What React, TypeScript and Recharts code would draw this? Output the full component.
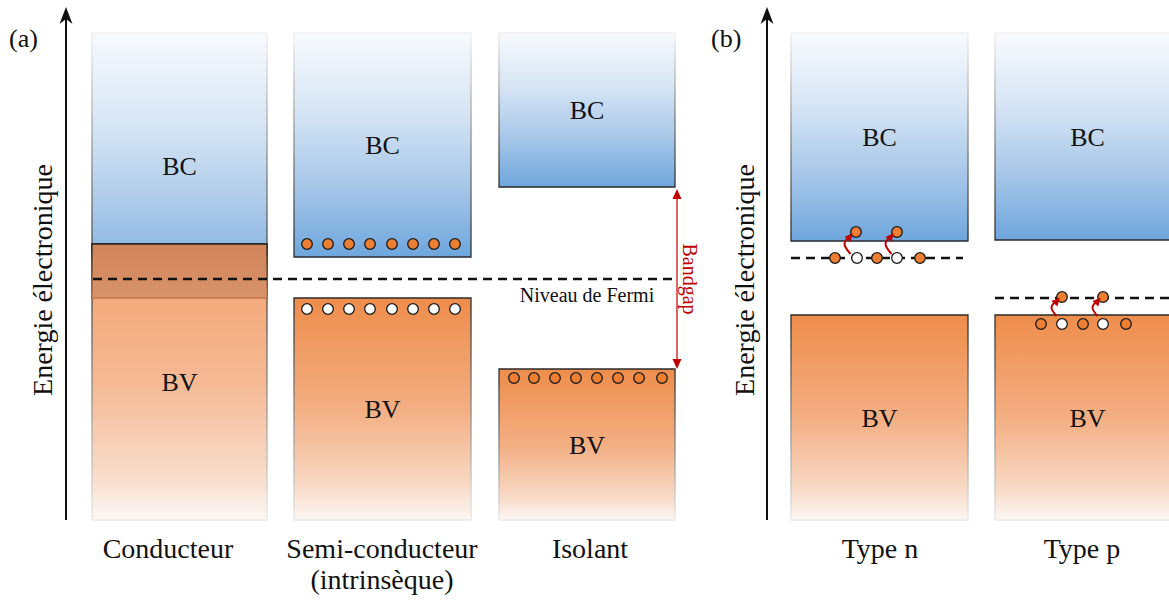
import {
  ComposedChart,
  XAxis,
  YAxis,
  ReferenceArea,
  ReferenceLine,
  Scatter,
  Line,
} from "recharts";

const FONT = "Liberation Serif, Times New Roman, Times, serif";
const RED = "#c00000";

// columns (x in chart units, energies in arbitrary units, 0 = bottom of the axis)
const columnNames = [["Conducteur"], ["Semi-conducteur", "(intrinsèque)"], ["Isolant"], ["Type n"], ["Type p"]];
const columnTicks = [168, 382, 590, 880, 1082];
const columnLeft = [92, 294, 499, 791, 995];
const columnRight = [267, 471, 675, 968, 1180];
const bandTop = 487;
const bcBottom = [222, 263, 333, 279, 280];
const bvTop = [276, 222, 151, 205, 205];

const fermiLevel = { x1: 93, x2: 676, e: 241 };
const donorLevel = { x1: 791, x2: 963, e: 262 };
const acceptorLevel = { x1: 995, x2: 1169, e: 222 };

const electrons = [
  { x: 307, e: 276 }, { x: 328, e: 276 }, { x: 349, e: 276 }, { x: 370, e: 276 },
  { x: 392, e: 276 }, { x: 413, e: 276 }, { x: 434, e: 276 }, { x: 455, e: 276 },
  { x: 514, e: 142 }, { x: 534, e: 142 }, { x: 555, e: 142 }, { x: 576, e: 142 },
  { x: 597, e: 142 }, { x: 618, e: 142 }, { x: 639, e: 142 }, { x: 662, e: 142 },
  { x: 835, e: 262 }, { x: 877, e: 262 }, { x: 920, e: 262 },
  { x: 856, e: 288 }, { x: 897, e: 288 },
  { x: 1062, e: 223 }, { x: 1103, e: 223 },
  { x: 1041, e: 196 }, { x: 1083, e: 196 }, { x: 1126, e: 196 },
];

const holes = [
  { x: 307, e: 211 }, { x: 328, e: 211 }, { x: 349, e: 211 }, { x: 370, e: 211 },
  { x: 392, e: 211 }, { x: 413, e: 211 }, { x: 434, e: 211 }, { x: 455, e: 211 },
  { x: 857, e: 262 }, { x: 897, e: 262 },
  { x: 1062, e: 196 }, { x: 1103, e: 196 },
];

const excitationArrows = [
  [{ x: 850.5, e: 266 }, { x: 844.5, e: 276.5 }, { x: 852, e: 286 }],
  [{ x: 891.5, e: 266 }, { x: 885.5, e: 276.5 }, { x: 893, e: 286 }],
  [{ x: 1056.5, e: 204 }, { x: 1051.5, e: 213 }, { x: 1059, e: 221.5 }],
  [{ x: 1097.5, e: 204 }, { x: 1092.5, e: 213 }, { x: 1100, e: 221.5 }],
];

const gapArrow = { x: 677, e1: 151, e2: 331 };
const energyAxes = [66, 767];
const axisTop = 513;

const excitationHeads = excitationArrows.map((a) => ({
  x: a[2].x, e: a[2].e, dx: a[2].x - a[1].x, de: a[2].e - a[1].e,
}));
const gapHeads = [
  { x: gapArrow.x, e: gapArrow.e2, dx: 0, de: 1 },
  { x: gapArrow.x, e: gapArrow.e1, dx: 0, de: -1 },
];
const axisHeads = energyAxes.map((x) => ({ x, e: axisTop, dx: 0, de: 1 }));

function Carrier(fill: string) {
  return (props: any) => (
    <circle cx={props.cx} cy={props.cy} r={5.3} fill={fill} stroke="#1a1a1a" strokeWidth={1.3} />
  );
}

function Head(d: string, fill: string) {
  return (props: any) => {
    const { cx, cy, payload } = props;
    const ang = (Math.atan2(-payload.de, payload.dx) * 180) / Math.PI;
    return <path d={d} fill={fill} transform={`translate(${cx},${cy}) rotate(${ang})`} />;
  };
}

function ColumnTick(props: any) {
  const { x, payload } = props;
  const idx = columnTicks.indexOf(payload.value);
  const lines = columnNames[idx] || [];
  return (
    <g>
      {lines.map((t, i) => (
        <text key={i} x={x} y={558 + i * 31} textAnchor="middle" style={{ fontFamily: FONT }} fontSize={28} fill="#111">
          {t}
        </text>
      ))}
    </g>
  );
}

const bandLabel = (value: string) => ({
  value,
  position: "center" as const,
  fontSize: 26,
  fill: "#111",
  style: { fontFamily: FONT },
});

export default function App() {
  return (
    <div style={{ position: "relative", width: 1169, height: 604, background: "#fff", fontFamily: FONT }}>
      <style>{"body{margin:0} svg text{font-family:'Liberation Serif','Times New Roman',serif !important}"}</style>
      <ComposedChart width={1169} height={604} margin={{ top: 0, right: 0, bottom: 0, left: 0 }}>
        <defs>
          <linearGradient id="bcFill" x1="0" y1="0" x2="0" y2="1">
            <stop offset="0" stopColor="#f8fafd" />
            <stop offset="0.35" stopColor="#d6e5f4" />
            <stop offset="0.7" stopColor="#a4c5e8" />
            <stop offset="1" stopColor="#6ea6dc" />
          </linearGradient>
          <linearGradient id="bcStroke" x1="0" y1="0" x2="0" y2="1">
            <stop offset="0" stopColor="#f0f0f0" />
            <stop offset="0.5" stopColor="#888" />
            <stop offset="1" stopColor="#2a2a2a" />
          </linearGradient>
          <linearGradient id="bvFill" x1="0" y1="0" x2="0" y2="1">
            <stop offset="0" stopColor="#ee8d4b" />
            <stop offset="0.5" stopColor="#f3ae82" />
            <stop offset="0.85" stopColor="#f8dac6" />
            <stop offset="1" stopColor="#fcf7f5" />
          </linearGradient>
          <linearGradient id="bvFillLight" x1="0" y1="0" x2="0" y2="1">
            <stop offset="0" stopColor="#f2a06b" />
            <stop offset="0.5" stopColor="#f5b994" />
            <stop offset="0.85" stopColor="#f9ddcb" />
            <stop offset="1" stopColor="#fcf7f5" />
          </linearGradient>
          <linearGradient id="bvStroke" x1="0" y1="0" x2="0" y2="1">
            <stop offset="0" stopColor="#2a2a2a" />
            <stop offset="0.5" stopColor="#888" />
            <stop offset="1" stopColor="#e8e8e8" />
          </linearGradient>
          <linearGradient id="overlapFill" x1="0" y1="0" x2="0" y2="1">
            <stop offset="0" stopColor="#d2845a" />
            <stop offset="1" stopColor="#d8936a" />
          </linearGradient>
          <linearGradient id="overlapStroke" x1="0" y1="0" x2="0" y2="1">
            <stop offset="0" stopColor="#222" />
            <stop offset="1" stopColor="#c0774c" />
          </linearGradient>
        </defs>
        <XAxis
          type="number"
          dataKey="x"
          domain={[0, 1169]}
          ticks={columnTicks}
          interval={0}
          tick={<ColumnTick />}
          axisLine={false}
          tickLine={false}
          height={84}
          allowDataOverflow
        />
        <YAxis type="number" domain={[0, 520]} hide allowDataOverflow />

        {columnLeft.map((x1, i) => (
          <ReferenceArea
            key={`bc${i}`}
            x1={x1}
            x2={columnRight[i]}
            y1={bcBottom[i]}
            y2={bandTop}
            ifOverflow="visible"
            fill="url(#bcFill)"
            fillOpacity={1}
            stroke="url(#bcStroke)"
            strokeWidth={1.3}
            label={bandLabel("BC")}
          />
        ))}
        {columnLeft.map((x1, i) => (
          <ReferenceArea
            key={`bv${i}`}
            x1={x1}
            x2={columnRight[i]}
            y1={0}
            y2={bvTop[i]}
            ifOverflow="visible"
            fill={bvTop[i] > bcBottom[i] ? "url(#bvFillLight)" : "url(#bvFill)"}
            fillOpacity={1}
            stroke="url(#bvStroke)"
            strokeWidth={1.3}
            label={bandLabel("BV")}
          />
        ))}
        {columnLeft.map((x1, i) =>
          bvTop[i] > bcBottom[i] ? (
            <ReferenceArea
              key={`ov${i}`}
              x1={x1}
              x2={columnRight[i]}
              y1={bcBottom[i]}
              y2={bvTop[i]}
              ifOverflow="visible"
              fill="url(#overlapFill)"
              fillOpacity={1}
              stroke="url(#overlapStroke)"
              strokeWidth={1.3}
            />
          ) : null
        )}

        {[fermiLevel, donorLevel, acceptorLevel].map((l, i) => (
          <ReferenceLine
            key={`lvl${i}`}
            segment={[{ x: l.x1, y: l.e }, { x: l.x2, y: l.e }]}
            stroke="#111"
            strokeWidth={2.5}
            strokeDasharray="9 6"
          />
        ))}

        <ReferenceLine
          segment={[{ x: gapArrow.x, y: gapArrow.e1 + 6 }, { x: gapArrow.x, y: gapArrow.e2 - 6 }]}
          stroke={RED}
          strokeWidth={1.2}
        />
        {energyAxes.map((x) => (
          <ReferenceLine key={`ax${x}`} segment={[{ x, y: 0 }, { x, y: axisTop - 8 }]} stroke="#111" strokeWidth={2} />
        ))}

        <Scatter data={electrons} dataKey="e" shape={Carrier("#ee7f32")} isAnimationActive={false} />
        <Scatter data={holes} dataKey="e" shape={Carrier("#ffffff")} isAnimationActive={false} />

        {excitationArrows.map((pts, i) => (
          <Line
            key={`arr${i}`}
            data={pts}
            dataKey="e"
            type="natural"
            stroke={RED}
            strokeWidth={2}
            dot={false}
            activeDot={false}
            isAnimationActive={false}
          />
        ))}
        <Scatter data={excitationHeads} dataKey="e" shape={Head("M1,0 L-7,-4 L-7,4 Z", RED)} isAnimationActive={false} />
        <Scatter data={gapHeads} dataKey="e" shape={Head("M0,0 L-10,-4.5 L-10,4.5 Z", RED)} isAnimationActive={false} />
        <Scatter data={axisHeads} dataKey="e" shape={Head("M0,0 L-17,-6.5 L-12,0 L-17,6.5 Z", "#111")} isAnimationActive={false} />
      </ComposedChart>

      <svg width={1169} height={604} style={{ position: "absolute", left: 0, top: 0, pointerEvents: "none" }}>
        <g fill="#111" style={{ fontFamily: FONT }}>
          <text x={9} y={47} fontSize={26}>(a)</text>
          <text x={711} y={47} fontSize={26}>(b)</text>
          <text x={52} y={280} fontSize={28} textAnchor="middle" transform="rotate(-90 52 280)">Energie électronique</text>
          <text x={754} y={280} fontSize={28} textAnchor="middle" transform="rotate(-90 754 280)">Energie électronique</text>
          <text x={587} y={302} fontSize={20} textAnchor="middle">Niveau de Fermi</text>
          <text x={683} y={279} fontSize={20} textAnchor="middle" fill={RED} transform="rotate(90 683 279)">Bandgap</text>
        </g>
      </svg>
    </div>
  );
}
